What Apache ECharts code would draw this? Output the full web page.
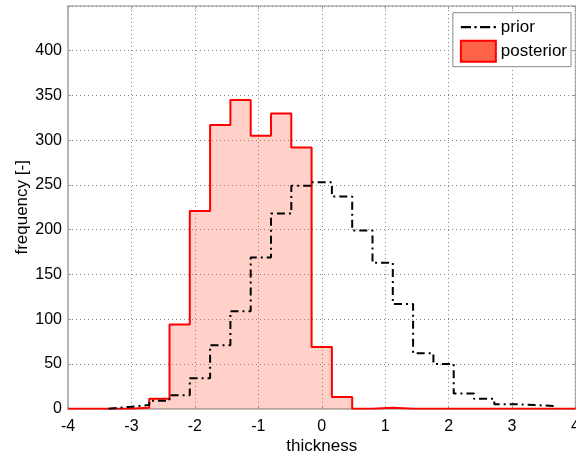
<!DOCTYPE html>
<html>
<head>
<meta charset="utf-8">
<script src="https://cdn.jsdelivr.net/npm/echarts@6/dist/echarts.min.js"></script>
<style>
  html, body { margin: 0; padding: 0; background: #fff; }
  #chart { width: 576px; height: 456px; }
</style>
</head>
<body>
<div id="chart"></div>
<script>
// ---- data ----
const binCenters = [-3.84, -3.52, -3.20, -2.88, -2.56, -2.24, -1.92, -1.60, -1.28, -0.96, -0.64, -0.32,
                    0.00, 0.32, 0.64, 0.96, 1.28, 1.60, 1.92, 2.24, 2.56, 2.88, 3.20, 3.52, 3.84];
const binWidth = 0.32;
const priorCounts =     [0, 0, 2, 4, 9, 15, 34, 71, 109, 169, 218, 249, 253, 237, 199, 163, 117, 62, 50, 17, 11, 5, 4, 3, 0];
const posteriorCounts = [0, 0, 0, 1, 11, 94, 221, 317, 345, 305, 330, 292, 69, 13, 0, 1, 0, 0, 0, 0, 0, 0, 0, 0, 0];
const xTicks = [-4, -3, -2, -1, 0, 1, 2, 3, 4];
const yTicks = [0, 50, 100, 150, 200, 250, 300, 350, 400];
const seriesNames = ['prior', 'posterior'];

// build stair-step points (bin edges) from counts
function stairs(counts, first, last) {
  const pts = [];
  const edge = k => +(binCenters[k] - binWidth / 2).toFixed(4);
  const rightEdge = k => +(binCenters[k] + binWidth / 2).toFixed(4);
  pts.push([edge(first), 0]);
  for (let k = first; k <= last; k++) pts.push([edge(k), counts[k]]);
  pts.push([rightEdge(last), counts[last]]);
  pts.push([rightEdge(last), 0]);
  return pts;
}
function nonZeroRange(counts) {
  let a = 0, b = counts.length - 1;
  while (a < b && counts[a] === 0) a++;
  while (b > a && counts[b] === 0) b--;
  return [a, b];
}
const pr = nonZeroRange(priorCounts);
const priorPts = stairs(priorCounts, pr[0], pr[1]);
const postPts = stairs(posteriorCounts, 0, posteriorCounts.length - 1);

const FONT = "'Liberation Sans', Arial, Helvetica, sans-serif";
const chart = echarts.init(document.getElementById('chart'), null, { renderer: 'canvas' });
const yMax = 450, yStep = 50;
// dash-dot legend sample
const dashDotIcon = 'path://M0,0h9v2h-9z M12,0h2v2h-2z M17,0h9v2h-9z M29,0h2v2h-2z';

const option = {
  animation: false,
  backgroundColor: '#fff',
  textStyle: { fontFamily: FONT },
  grid: {
    left: 68, right: 0.5, top: 6, bottom: 47.3,
    outerBoundsMode: 'none', containLabel: false,
    show: true, borderColor: '#b4b4b4', borderWidth: 1.5, backgroundColor: 'transparent'
  },
  legend: {
    data: [
      { name: seriesNames[0], icon: dashDotIcon, itemStyle: { color: '#000', borderWidth: 0 } },
      { name: seriesNames[1], icon: 'rect',
        itemStyle: { color: '#FF6347', borderColor: '#ff0000', borderWidth: 2 } }
    ],
    orient: 'vertical',
    right: 5, top: 12.7,
    itemWidth: 35, itemHeight: 21, itemGap: 4,
    padding: [6, 4, 4, 7],
    borderColor: '#888', borderWidth: 1, backgroundColor: '#fff',
    textStyle: { fontSize: 17, color: '#000', fontFamily: FONT },
    selectedMode: false
  },
  xAxis: [{
    type: 'value', min: xTicks[0], max: xTicks[xTicks.length - 1], interval: 1,
    name: 'thickness', nameLocation: 'middle', nameGap: 29, nameMoveOverlap: false,
    nameTextStyle: { fontSize: 17, color: '#000', fontFamily: FONT },
    axisLine: { show: true, onZero: false, lineStyle: { color: '#b4b4b4', width: 1.5 } },
    axisTick: { show: true, inside: true, length: 3, lineStyle: { color: '#999' } },
    axisLabel: { fontSize: 16, color: '#000', margin: 10, fontFamily: FONT },
    splitLine: { show: true, lineStyle: { type: [1, 3], color: '#888', width: 1 } }
  }, {
    type: 'value', position: 'top', min: xTicks[0], max: xTicks[xTicks.length - 1], interval: 1,
    axisLine: { show: false, onZero: false },
    axisTick: { show: true, inside: true, length: 3, lineStyle: { color: '#999' } },
    axisLabel: { show: false }, splitLine: { show: false }
  }],
  yAxis: [{
    type: 'value', min: 0, max: yMax, interval: yStep,
    name: 'frequency [-]', nameLocation: 'middle', nameGap: 37, nameMoveOverlap: false,
    nameTextStyle: { fontSize: 17, color: '#000', fontFamily: FONT },
    axisLine: { show: true, onZero: false, lineStyle: { color: '#b4b4b4', width: 1.5 } },
    axisTick: { show: true, inside: true, length: 3, lineStyle: { color: '#999' } },
    axisLabel: { fontSize: 16, color: '#000', margin: 6, fontFamily: FONT,
      formatter: v => (yTicks.indexOf(v) >= 0 ? String(v) : '') },
    splitLine: { show: true, lineStyle: { type: [1, 3], color: '#888', width: 1 } }
  }, {
    type: 'value', position: 'right', min: 0, max: yMax, interval: yStep,
    axisLine: { show: false, onZero: false },
    axisTick: { show: true, inside: true, length: 3, lineStyle: { color: '#999' } },
    axisLabel: { show: false }, splitLine: { show: false }
  }],
  series: [
    {
      name: seriesNames[1], type: 'line', step: 'end', data: postPts,
      xAxisIndex: 0, yAxisIndex: 0,
      symbol: 'none', showSymbol: false,
      lineStyle: { color: '#ff0000', width: 2 },
      itemStyle: { color: '#ff0000' },
      areaStyle: { color: 'rgba(255,99,71,0.42)', origin: 'start' },
      z: 2
    },
    {
      name: seriesNames[0], type: 'line', step: 'end', data: priorPts,
      xAxisIndex: 0, yAxisIndex: 0,
      symbol: 'none', showSymbol: false,
      lineStyle: { color: '#000', width: 2, type: [8, 4, 2, 4] },
      itemStyle: { color: '#000' },
      z: 3
    }
  ]
};
chart.setOption(option);
</script>
</body>
</html>
